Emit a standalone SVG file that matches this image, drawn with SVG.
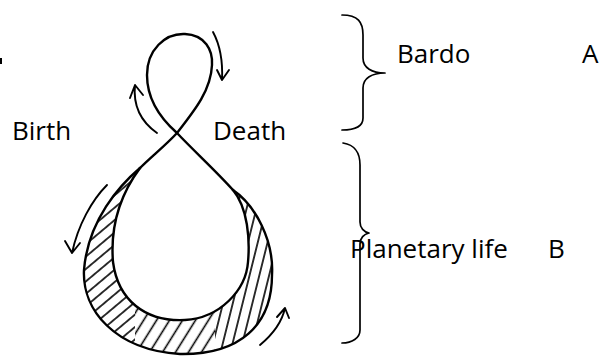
<svg xmlns="http://www.w3.org/2000/svg" width="602" height="356" viewBox="0 0 602 356">
<style>
.ln{fill:none;stroke:#000;stroke-width:2.4;stroke-linecap:round;stroke-linejoin:round}
.ar{fill:none;stroke:#000;stroke-width:1.9;stroke-linecap:round;stroke-linejoin:round}
.br{fill:none;stroke:#000;stroke-width:1.7;stroke-linecap:round;stroke-linejoin:round}
.tx{font-family:"Open Sans","Liberation Sans",sans-serif;font-size:26px;fill:#000}
.hl{stroke:#000;stroke-width:1.6}
</style>
<defs>
<pattern id="h1" patternUnits="userSpaceOnUse" width="10" height="9.5" patternTransform="rotate(-40)"><line class="hl" x1="0" y1="4.75" x2="10" y2="4.75"/></pattern>
<pattern id="h2" patternUnits="userSpaceOnUse" width="10" height="11" patternTransform="rotate(-58)"><line class="hl" x1="0" y1="5.5" x2="10" y2="5.5"/></pattern>
<pattern id="h3" patternUnits="userSpaceOnUse" width="10" height="9.5" patternTransform="rotate(-76)"><line class="hl" x1="0" y1="4.75" x2="10" y2="4.75"/></pattern>
<clipPath id="cres"><path d="M140,168 C120,185 88,220 84,270 C82,310 115,350 180,354 C240,355 272,325 272,275 C274,240 255,205 233,190 C248,208 250,240 248,262 C246,290 220,318 185,320 C145,322 118,300 113,262 C110,225 120,195 140,168 Z"/></clipPath>
</defs>
<rect width="602" height="356" fill="#fff"/>
<g id="hatching" clip-path="url(#cres)">
<rect x="60" y="150" width="75" height="210" fill="url(#h1)"/>
<rect x="135" y="150" width="80" height="210" fill="url(#h2)"/>
<rect x="215" y="150" width="70" height="210" fill="url(#h3)"/>
</g>
<g id="figure-eight">
<path class="ln" d="M177,133 C160,118 147,100 147,75 C147,50 165,33 185,34 C205,35 213,50 212,65 C211,90 195,110 177,133 C165,146 152,156 140,168"/>
<path class="ln" d="M177,133 C195,152 215,170 233,190"/>
<path class="ln" d="M140,168 C120,185 88,220 84,270 C82,310 115,350 180,354 C240,355 272,325 272,275 C274,240 255,205 233,190"/>
<path class="ln" d="M233,190 C248,208 250,240 248,262 C246,290 220,318 185,320 C145,322 118,300 113,262 C110,225 120,195 140,168"/>
</g>
<g id="connectors">
<path class="ar" d="M213,32 C220,45 223,60 222,80 M217,70 L222,80 L229,70"/>
<path class="ar" d="M157,133 C140,121 133,105 135,85 M130,98 L135,85 L143,95"/>
<path class="ar" d="M107,185 C92,200 78,225 72,253 M65,241 L72,253 L80,243"/>
<path class="ar" d="M260,345 C272,335 282,322 285,308 M277,317 L285,308 L289,318"/>
</g>
<g id="brace-bardo">
<path class="br" d="M342,15 C358,15 363,22 363,35 L363,58 C363,68 372,73 385,73 C372,73 363,78 363,88 L363,118 C363,126 356,130 342,130"/>
</g>
<g id="brace-planetary">
<path class="br" d="M343,143 C355,145 360,152 360,165 L360,222 C360,228 364,232 369,233 C364,234 360,238 360,244 L360,330 C360,338 352,343 342,343"/>
</g>
<g id="mark"><path d="M1,58 L1,64" stroke="#000" stroke-width="2"/></g>
<g id="labels">
<text class="tx" x="12" y="140">Birth</text>
<text class="tx" x="213" y="140">Death</text>
<text class="tx" x="397" y="63">Bardo</text>
<text class="tx" x="582" y="63">A</text>
<text class="tx" x="350" y="258">Planetary life</text>
<text class="tx" x="548" y="258">B</text>
</g>
</svg>
